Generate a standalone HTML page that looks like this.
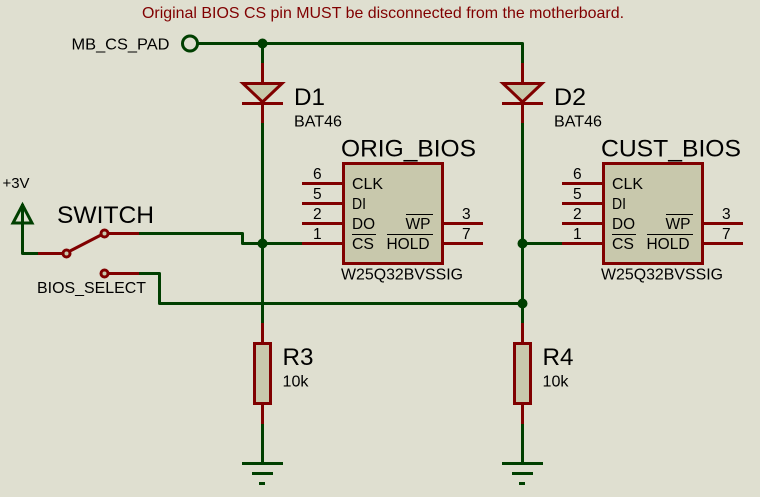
<!DOCTYPE html>
<html>
<head>
<meta charset="utf-8">
<style>
html,body{margin:0;padding:0;background:#dfdfd0;width:760px;height:497px;overflow:hidden}
svg{display:block}
text{font-family:"Liberation Sans",sans-serif;fill:#000}
.g{stroke:#003f00;stroke-width:3;fill:none;stroke-linejoin:round}
.r{stroke:#800000;stroke-width:3;fill:none}
.b{stroke:#800000;stroke-width:3;fill:#c8c8ac}
.s{font-size:16px}
.d{font-size:15.5px}
.l{font-size:24.5px}
.o{stroke:#000;stroke-width:1;fill:none}
</style>
</head>
<body>
<svg width="760" height="497" viewBox="0 0 760 497" xmlns="http://www.w3.org/2000/svg">
<rect width="760" height="497" fill="#dfdfd0"/>
<text x="142" y="18" font-size="16" style="fill:#800000" textLength="482" lengthAdjust="spacingAndGlyphs">Original BIOS CS pin MUST be disconnected from the motherboard.</text>

<!-- green wires -->
<path class="g" d="M197 43.5H522.5V63M262.5 43.5V63M262.5 123V323M522.5 123V323"/>
<path class="g" d="M262.5 424V463M522.5 424V463"/>
<path class="g" d="M22.5 204V253.5H38M139 233.5H242.5V243.5H302M139 273.5H159.5V303.5H522.5M522.5 243.5H562"/>

<!-- MB_CS_PAD -->
<circle cx="190" cy="43.5" r="7.5" fill="none" stroke="#003f00" stroke-width="3"/>
<text x="71.5" y="49.5" class="s" textLength="98" lengthAdjust="spacingAndGlyphs">MB_CS_PAD</text>

<!-- junctions -->
<g fill="#003f00">
<circle cx="262.5" cy="43.5" r="5"/>
<circle cx="262.5" cy="243.5" r="5"/>
<circle cx="522.5" cy="243.5" r="5"/>
<circle cx="522.5" cy="303.5" r="5"/>
</g>

<!-- +3V -->
<text x="2.5" y="188" font-size="15" textLength="27" lengthAdjust="spacingAndGlyphs">+3V</text>
<path d="M22.5 205L32 223H13Z" fill="none" stroke="#003f00" stroke-width="3"/>

<!-- Switch -->
<text x="57" y="223" class="l" textLength="97" lengthAdjust="spacingAndGlyphs">SWITCH</text>
<path class="r" d="M38 253.5H62M109 233.5H139M109 273.5H139M70 251L101 235"/>
<circle cx="66.5" cy="253.5" r="3.5" fill="#c8c8ac" stroke="#800000" stroke-width="3"/>
<circle cx="104.5" cy="233.5" r="3.5" fill="#c8c8ac" stroke="#800000" stroke-width="3"/>
<circle cx="104.5" cy="273.5" r="3.5" fill="#c8c8ac" stroke="#800000" stroke-width="3"/>
<text x="37" y="293" class="s" textLength="109" lengthAdjust="spacingAndGlyphs">BIOS_SELECT</text>

<!-- Diodes -->
<path class="r" d="M262.5 63V83M262.5 103V123M242 103.5H283"/>
<path class="b" d="M243 83.5H282L262.5 102Z"/>
<path class="r" d="M522.5 63V83M522.5 103V123M502 103.5H543"/>
<path class="b" d="M503 83.5H542L522.5 102Z"/>
<text x="294" y="105" class="l" textLength="31" lengthAdjust="spacingAndGlyphs">D1</text>
<text x="294" y="126.5" class="s" textLength="48" lengthAdjust="spacingAndGlyphs">BAT46</text>
<text x="554" y="105" class="l" textLength="32" lengthAdjust="spacingAndGlyphs">D2</text>
<text x="554" y="126.5" class="s" textLength="48" lengthAdjust="spacingAndGlyphs">BAT46</text>

<!-- ORIG_BIOS -->
<text x="341" y="156.5" class="l" textLength="135" lengthAdjust="spacingAndGlyphs">ORIG_BIOS</text>
<rect class="b" x="343.5" y="163.5" width="99" height="100"/>
<path class="r" d="M302 183.5H342M302 203.5H342M302 223.5H342M302 243.5H342M444 223.5H483M444 243.5H483"/>
<g class="d">
<text x="313" y="179">6</text><text x="313" y="199">5</text><text x="313" y="219">2</text><text x="313" y="239">1</text>
<text x="462" y="219">3</text><text x="462" y="239">7</text>
</g>
<g class="s">
<text x="352" y="189" textLength="31" lengthAdjust="spacingAndGlyphs">CLK</text><text x="352" y="209" textLength="14" lengthAdjust="spacingAndGlyphs">DI</text><text x="352" y="229" textLength="23" lengthAdjust="spacingAndGlyphs">DO</text><text x="352" y="249" textLength="22" lengthAdjust="spacingAndGlyphs">CS</text>
<text x="405.5" y="229" textLength="25" lengthAdjust="spacingAndGlyphs">WP</text>
<text x="386.5" y="249" textLength="43" lengthAdjust="spacingAndGlyphs">HOLD</text>
</g>
<path class="o" d="M352 234.5H376M406 214.5H433M387 234.5H433"/>
<text x="341" y="279.5" class="s" textLength="122" lengthAdjust="spacingAndGlyphs">W25Q32BVSSIG</text>

<!-- CUST_BIOS -->
<text x="601" y="156.5" class="l" textLength="140" lengthAdjust="spacingAndGlyphs">CUST_BIOS</text>
<rect class="b" x="603.5" y="163.5" width="99" height="100"/>
<path class="r" d="M562 183.5H602M562 203.5H602M562 223.5H602M562 243.5H602M704 223.5H743M704 243.5H743"/>
<g class="d">
<text x="573" y="179">6</text><text x="573" y="199">5</text><text x="573" y="219">2</text><text x="573" y="239">1</text>
<text x="722" y="219">3</text><text x="722" y="239">7</text>
</g>
<g class="s">
<text x="612" y="189" textLength="31" lengthAdjust="spacingAndGlyphs">CLK</text><text x="612" y="209" textLength="14" lengthAdjust="spacingAndGlyphs">DI</text><text x="612" y="229" textLength="23" lengthAdjust="spacingAndGlyphs">DO</text><text x="612" y="249" textLength="22" lengthAdjust="spacingAndGlyphs">CS</text>
<text x="665.5" y="229" textLength="25" lengthAdjust="spacingAndGlyphs">WP</text>
<text x="646.5" y="249" textLength="43" lengthAdjust="spacingAndGlyphs">HOLD</text>
</g>
<path class="o" d="M612 234.5H636M666 214.5H693M647 234.5H693"/>
<text x="601" y="279.5" class="s" textLength="122" lengthAdjust="spacingAndGlyphs">W25Q32BVSSIG</text>

<!-- Resistors -->
<path class="r" d="M262.5 323V343M262.5 404V424M522.5 323V343M522.5 404V424"/>
<rect class="b" x="254.5" y="343.5" width="16" height="60"/>
<rect class="b" x="514.5" y="343.5" width="16" height="60"/>
<text x="282.5" y="365" class="l" textLength="31" lengthAdjust="spacingAndGlyphs">R3</text>
<text x="282.5" y="386.5" class="s" textLength="26" lengthAdjust="spacingAndGlyphs">10k</text>
<text x="542.5" y="365" class="l" textLength="31" lengthAdjust="spacingAndGlyphs">R4</text>
<text x="542.5" y="386.5" class="s" textLength="26" lengthAdjust="spacingAndGlyphs">10k</text>

<!-- Grounds -->
<path class="g" d="M242 463.5H283M252 473.5H273M259 483.5H265M502 463.5H543M512 473.5H533M519 483.5H525"/>
</svg>
</body>
</html>
